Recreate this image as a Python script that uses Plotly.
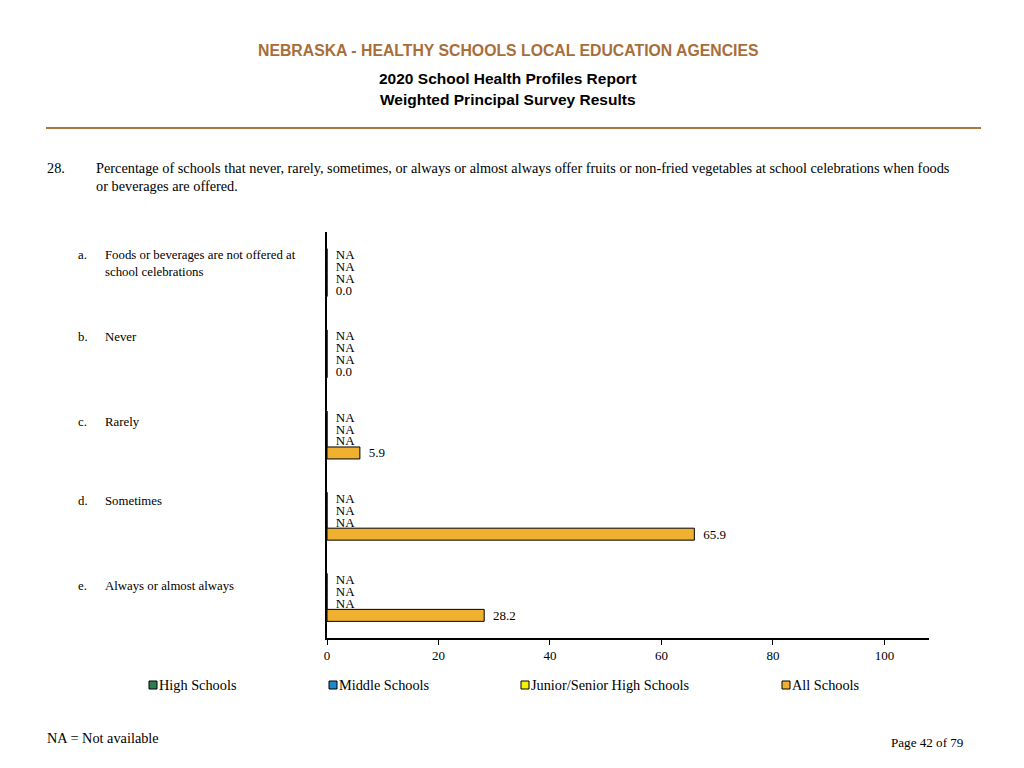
import plotly.graph_objects as go

# ---- data ----
categories = ["a", "b", "c", "d", "e"]
cat_labels = [
    "Foods or beverages are not offered at<br>school celebrations",
    "Never",
    "Rarely",
    "Sometimes",
    "Always or almost always",
]
series_names = ["High Schools", "Middle Schools", "Junior/Senior High Schools", "All Schools"]
high_schools = [None, None, None, None, None]
middle_schools = [None, None, None, None, None]
junior_senior = [None, None, None, None, None]
all_schools = [0.0, 0.0, 5.9, 65.9, 28.2]
series_values = [high_schools, middle_schools, junior_senior, all_schools]
series_colors = ["#2E7D4F", "#1F88C8", "#F5F500", "#F0B030"]
x_ticks = [0, 20, 40, 60, 80, 100]

SERIF = "Liberation Serif, Times New Roman, serif"
SANS = "Liberation Sans, Arial, sans-serif"
PAD = "\u00a0\u2009"

# page is offset by the 8px default body margin; figure size chosen to fit window
W, H = 1008, 752
L, T = 319, 224          # plot area left/top within figure
PW, PH = 602, 406        # plot area size
R, B = W - L - PW, H - T - PH

fig = go.Figure()
for name, vals, col in zip(series_names, series_values, series_colors):
    xs = [0 if v is None else v for v in vals]
    txt = [PAD + ("NA" if v is None else f"{v:.1f}") for v in vals]
    fig.add_trace(go.Bar(
        y=categories, x=xs, orientation="h", name=name,
        marker=dict(color=col, line=dict(color="black", width=1)),
        text=txt, textposition="outside", cliponaxis=False, constraintext="none",
        textfont=dict(family=SERIF, size=13, color="black"),
        showlegend=False, hoverinfo="skip",
    ))

fig.update_layout(
    width=W, height=H,
    margin=dict(l=L, r=R, t=T, b=B, autoexpand=False),
    paper_bgcolor="white", plot_bgcolor="white",
    barmode="group", bargap=0.41, bargroupgap=0.0,
    showlegend=False,
    xaxis=dict(range=[0, 108], tickvals=x_ticks, ticks="outside", ticklen=5,
               tickcolor="black", showline=True, linecolor="black", linewidth=1.5,
               showgrid=False, zeroline=False,
               tickfont=dict(family=SERIF, size=13, color="black")),
    yaxis=dict(autorange="reversed", showticklabels=False, showline=True,
               linecolor="black", linewidth=1.5, showgrid=False, ticks="",
               zeroline=False),
)


def px_x(px):
    # reference-window pixel x -> paper x
    return (px - 8 - L) / PW


def px_y(py):
    # reference-window pixel y -> paper y
    return (H - (py - 8) - B) / PH


annotations = []


def ann(text, x, y, xanchor, font, **kw):
    d = dict(text=text, xref="paper", yref="paper", x=px_x(x), y=px_y(y),
             xanchor=xanchor, yanchor="middle", showarrow=False, font=font)
    d.update(kw)
    annotations.append(d)


# header
ann("<b>NEBRASKA - HEALTHY SCHOOLS LOCAL EDUCATION AGENCIES</b>", 508, 50, "center",
    dict(family=SANS, size=15.8, color="#A86E3A"))
ann("<b>2020 School Health Profiles Report</b>", 508, 79, "center",
    dict(family=SANS, size=15.5, color="black"))
ann("<b>Weighted Principal Survey Results</b>", 508, 100, "center",
    dict(family=SANS, size=15.5, color="black"))
# question
ann("28.", 45, 168, "left", dict(family=SERIF, size=14.3, color="black"))
ann("Percentage of schools that never, rarely, sometimes, or always or almost always offer fruits "
    "or non-fried vegetables at school celebrations when foods",
    94, 168, "left", dict(family=SERIF, size=14.3, color="black"))
ann("or beverages are offered.", 94, 186, "left", dict(family=SERIF, size=14.3, color="black"))
# footer
ann("NA = Not available", 45, 738, "left", dict(family=SERIF, size=14.3, color="black"))
ann("Page 42 of 79", 966, 742, "right", dict(family=SERIF, size=13.1, color="black"))

# category labels (placed at the row positions of the reference page)
label_rows = [263, 337, 422, 501, 586]
for c, lab, ry in zip(categories, cat_labels, label_rows):
    first_line = ry - 8 if "<br>" in lab else ry
    ann(c + ".", 76, first_line, "left", dict(family=SERIF, size=12.8, color="black"))
    ann(lab, 103, ry, "left", dict(family=SERIF, size=12.8, color="black"), align="left")

# legend (manual)
legend_x = [149, 329, 521, 782]
shapes = []
for name, col, lx in zip(series_names, series_colors, legend_x):
    shapes.append(dict(type="rect", xref="paper", yref="paper",
                       x0=px_x(lx), x1=px_x(lx + 8),
                       y0=px_y(689), y1=px_y(681),
                       fillcolor=col, line=dict(color="black", width=1)))
    ann(name, lx + 8, 685, "left", dict(family=SERIF, size=14.3, color="black"))

# header rule
shapes.append(dict(type="line", xref="paper", yref="paper",
                   x0=px_x(46), x1=px_x(981), y0=px_y(128), y1=px_y(128),
                   line=dict(color="#A87740", width=2)))

fig.update_layout(annotations=annotations, shapes=shapes)
fig.write_html("out.html")
